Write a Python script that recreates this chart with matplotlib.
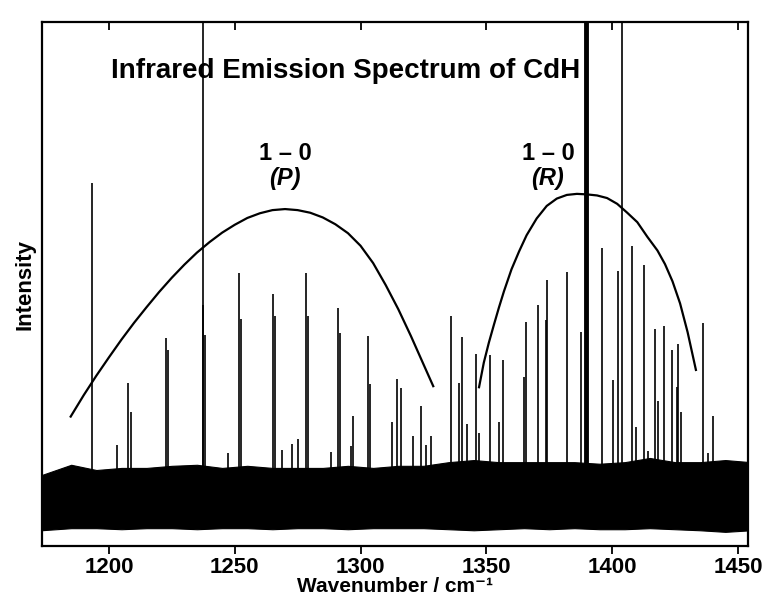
import matplotlib
matplotlib.use("Agg")
from matplotlib import pyplot as plt
import numpy as np

plt.rcParams['font.family'] = ['Liberation Sans', 'DejaVu Sans']
plt.rcParams['font.weight'] = 'bold'

# noise band of the baseline (upper / lower envelope)
noise_x = [1173, 1185, 1195, 1205, 1215, 1225, 1235, 1245, 1255, 1265, 1275, 1285, 1295, 1305, 1315,
           1325, 1335, 1345, 1355, 1365, 1375, 1385, 1395, 1405, 1415, 1425, 1435, 1445, 1455]
noise_hi = [13.5, 15.5, 14.5, 14.9, 14.9, 15.3, 15.5, 14.9, 15.3, 14.9, 14.9, 14.9, 15.3, 14.9, 15.3,
            15.3, 16.0, 16.4, 16.0, 16.0, 16.0, 16.0, 15.7, 16.0, 16.8, 16.0, 16.0, 16.4, 16.0]
noise_lo = [3.0, 3.4, 3.4, 3.2, 3.4, 3.4, 3.2, 3.4, 3.4, 3.2, 3.4, 3.4, 3.2, 3.4, 3.4,
            3.4, 3.2, 3.0, 3.2, 3.4, 3.2, 3.4, 3.2, 3.2, 3.4, 3.2, 3.0, 2.7, 3.0]

# emission lines: position (cm-1) and peak height
line_pos = [1193.1, 1203.4, 1207.6, 1208.6, 1222.7, 1223.6, 1237.5, 1237.2, 1238.0, 1247.3,
            1251.5, 1252.3, 1265.1, 1265.9, 1268.6, 1272.6, 1275.2, 1278.3, 1279.1, 1288.1,
            1290.9, 1291.7, 1296.2, 1297.0, 1303.1, 1303.9, 1312.4, 1314.4, 1315.9, 1320.7,
            1324.2, 1325.9, 1328.2, 1335.8, 1339.1, 1340.4, 1342.5, 1346.0, 1346.9, 1351.5,
            1355.0, 1356.7, 1365.0, 1365.7, 1370.7, 1373.7, 1374.2, 1382.0, 1387.6, 1396.1,
            1400.5, 1402.2, 1403.8, 1407.8, 1409.4, 1412.6, 1414.1, 1417.0, 1418.3, 1420.7,
            1423.6, 1425.6, 1426.3, 1427.3, 1436.0, 1438.3, 1440.2]
line_int = [69.3, 19.3, 31.2, 25.6, 39.7, 37.4, 110.0, 46.0, 40.3, 17.7,
            52.1, 43.3, 48.1, 43.8, 18.3, 19.5, 20.4, 52.1, 43.8, 17.9,
            45.5, 40.7, 19.0, 24.9, 40.1, 30.9, 23.7, 31.9, 30.2, 21.0,
            26.8, 19.3, 21.0, 43.9, 31.2, 39.8, 23.3, 36.6, 21.6, 36.5,
            23.7, 35.5, 32.3, 42.8, 46.0, 43.1, 50.8, 52.2, 40.8, 56.8,
            31.7, 52.5, 110.0, 57.3, 22.8, 53.6, 18.2, 41.4, 27.7, 41.9,
            37.4, 30.4, 38.5, 25.5, 42.6, 17.8, 24.9]
strong_pos = [1389.6]
strong_int = [110.0]

# band envelopes
p_x = [1184.8, 1190, 1195, 1200, 1205, 1210, 1215, 1220, 1225, 1230, 1235, 1240, 1245, 1250,
       1255, 1260, 1265, 1270, 1275, 1280, 1285, 1290, 1295, 1300, 1305, 1310, 1315, 1320,
       1325, 1328.9]
p_y = [24.7, 28.8, 32.5, 36.0, 39.4, 42.6, 45.6, 48.5, 51.2, 53.7, 56.0, 58.0, 59.8, 61.3,
       62.6, 63.5, 64.1, 64.3, 64.1, 63.6, 62.7, 61.4, 59.7, 57.3, 54.0, 49.8, 45.2, 40.1,
       34.7, 30.5]
r_x = [1347.1, 1349, 1351, 1353, 1355, 1357, 1360, 1363, 1366, 1370, 1374, 1378, 1382, 1386,
       1390, 1394, 1398, 1402, 1406, 1410, 1414, 1418, 1421, 1424, 1427, 1430, 1433.3]
r_y = [30.3, 35.0, 38.8, 42.2, 45.5, 48.6, 52.8, 56.2, 59.3, 62.5, 64.9, 66.3, 67.0, 67.2,
       67.1, 66.9, 66.4, 65.3, 63.6, 61.8, 59.0, 56.4, 53.8, 50.5, 46.3, 40.8, 33.6]

xticks = [1200, 1250, 1300, 1350, 1400, 1450]

fig = plt.figure(figsize=(7.66, 5.99), dpi=100)
ax = fig.add_axes([42/766, 53/599, 706/766, 524/599])

ax.fill_between(noise_x, noise_lo, noise_hi, color='black', lw=0.8)
ax.vlines(line_pos, 10, line_int, color='black', lw=1.2)
ax.vlines(strong_pos, 10, strong_int, color='black', lw=3.5)
ax.plot(p_x, p_y, color='black', lw=1.6)
ax.plot(r_x, r_y, color='black', lw=1.6)

ax.text(1294, 90.6, "Infrared Emission Spectrum of CdH", fontsize=20, fontweight='bold',
        ha='center', va='center')
ax.text(1270, 75, "1 \u2013 0", fontsize=17, fontweight='bold', ha='center', va='center')
ax.text(1270, 70.2, "(P)", fontsize=17, fontweight='bold', style='italic', ha='center', va='center')
ax.text(1374.5, 75, "1 \u2013 0", fontsize=17, fontweight='bold', ha='center', va='center')
ax.text(1374.5, 70.2, "(R)", fontsize=17, fontweight='bold', style='italic', ha='center', va='center')

ax.set_xlim(1173.4, 1454)
ax.set_ylim(0, 100)
ax.set_xticks(xticks)
ax.set_yticks([])
ax.tick_params(axis='x', which='both', direction='out', length=6, width=1.3,
               labelsize=16, top=True, pad=2)
for s in ax.spines.values():
    s.set_linewidth(1.6)

fig.text(395/766, 3/599, "Wavenumber / cm\u207b\u00b9", fontsize=15, fontweight='bold',
         ha='center', va='bottom')
ax.set_ylabel("Intensity", fontsize=16, fontweight='bold', labelpad=5)

# top ticks point inward
for t in ax.xaxis.get_major_ticks():
    t.tick2line.set_marker(3)

fig.savefig("out.png", dpi=100)
